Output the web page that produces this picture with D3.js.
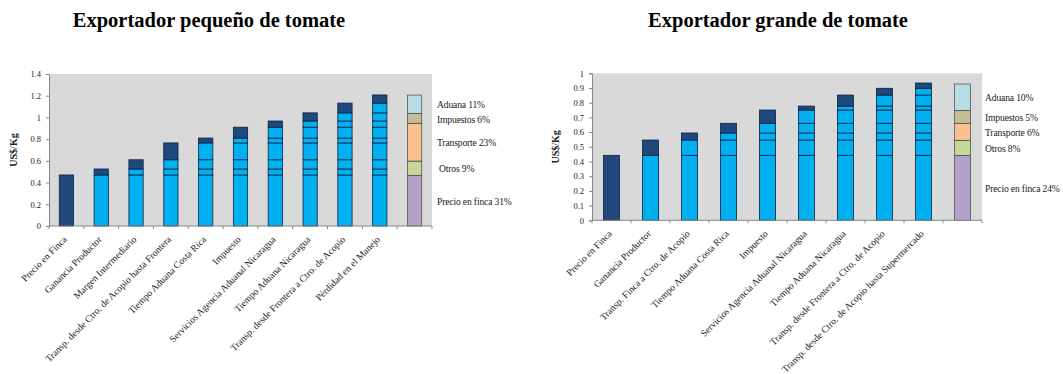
<!DOCTYPE html>
<html>
<head>
<meta charset="utf-8">
<script src="https://cdn.jsdelivr.net/npm/d3@7/dist/d3.min.js"></script>
<style>
  html, body { margin: 0; padding: 0; background: #fff; }
  svg { display: block; }
  text { font-family: "Liberation Serif", "Times New Roman", serif; fill: #222; }
</style>
</head>
<body>
<svg id="chart" width="1063" height="374"></svg>
<script>
// Small exporter: cost components added step by step (US$/Kg)
const smallCategories = [
  "Precio en Finca", "Ganancia Productor", "Margen Intermediario",
  "Transp. desde Ctro. de Acopio hasta Frontera", "Tiempo Aduana Costa Rica",
  "Impuesto", "Servicios Agencia Aduanal Nicaragua", "Tiempo Aduana Nicaragua",
  "Transp. desde Frontera a Ctro. de Acopio", "Pérdidad en el Manejo"
];
const smallSteps = [0.47, 0.055, 0.085, 0.155, 0.045, 0.10, 0.057, 0.075, 0.09, 0.075];
const smallTicks = [0, 0.2, 0.4, 0.6, 0.8, 1, 1.2, 1.4];

// Small exporter: summary by cost group
const groupNames = ["Precio en finca", "Otros", "Transporte", "Impuestos", "Aduana"];
const smallGroups = [0.467, 0.131, 0.348, 0.092, 0.168];
const smallGroupPct = ["31%", "9%", "23%", "6%", "11%"];

// Large exporter: cost components added step by step (US$/Kg)
const largeCategories = [
  "Precio en Finca", "Ganancia Productor", "Transp. Finca a Ctro. de Acopio",
  "Tiempo Aduana Costa Rica", "Impuesto", "Servicios Agencia Aduanal Nicaragua",
  "Tiempo Aduana Nicaragua", "Transp. desde Frontera a Ctro. de Acopio",
  "Transp. desde Ctro. de Acopio hasta Supermercado"
];
const largeSteps = [0.442, 0.104, 0.048, 0.066, 0.09, 0.027, 0.075, 0.046, 0.036];
const largeTicks = [0, 0.1, 0.2, 0.3, 0.4, 0.5, 0.6, 0.7, 0.8, 0.9, 1];

// Large exporter: summary by cost group
const largeGroups = [0.442, 0.102, 0.116, 0.088, 0.179];
const largeGroupPct = ["24%", "8%", "6%", "5%", "10%"];

const groupColors = ["#b3a2c8", "#c4d79b", "#fac08f", "#c4bd97", "#b7dee8"];
const darkBlue = "#1f497d";
const lightBlue = "#00b0f0";

const svg = d3.select("#chart");

function drawPanel(opt) {
  const { x0, x1, y0, y1, maxY, ticks, cats, steps, groups, pct, title, titleX, labelX, axisLabelX } = opt;
  const g = svg.append("g");

  const bandKeys = cats.map((c, i) => "c" + i).concat(["total"]);
  const x = d3.scaleBand().domain(bandKeys).range([x0, x1]).paddingInner(0.59).paddingOuter(0.295);
  const y = d3.scaleLinear().domain([0, maxY]).range([y1, y0]);

  // plot background
  g.append("rect").attr("x", x0).attr("y", y0).attr("width", x1 - x0).attr("height", y1 - y0)
    .attr("fill", "#d9d9d9");

  // cumulative stacks: earlier steps in light blue, newest step in dark blue
  const cum = d3.cumsum(steps);
  steps.forEach((s, i) => {
    const key = "c" + i;
    for (let j = 0; j <= i; j++) {
      const lo = j === 0 ? 0 : cum[j - 1];
      const hi = cum[j];
      g.append("rect")
        .attr("x", x(key)).attr("width", x.bandwidth())
        .attr("y", y(hi)).attr("height", y(lo) - y(hi))
        .attr("fill", j === i ? darkBlue : lightBlue)
        .attr("stroke", "#0b2240").attr("stroke-width", 0.8);
    }
  });

  // summary bar by cost group
  const gcum = d3.cumsum(groups);
  groups.forEach((v, j) => {
    const lo = j === 0 ? 0 : gcum[j - 1];
    const hi = gcum[j];
    g.append("rect")
      .attr("x", x("total")).attr("width", x.bandwidth())
      .attr("y", y(hi)).attr("height", y(lo) - y(hi))
      .attr("fill", groupColors[j])
      .attr("stroke", "#444").attr("stroke-width", 0.7);
    g.append("text")
      .attr("x", labelX + (j === 1 && opt.indentOtros ? 2 : 0))
      .attr("y", y((lo + hi) / 2) + 2)
      .attr("dominant-baseline", "middle")
      .attr("font-size", 9.6)
      .attr("letter-spacing", -0.15)
      .text(groupNames[j] + " " + pct[j]);
  });

  // y axis
  const yAxis = d3.axisLeft(y).tickValues(ticks).tickSize(3).tickPadding(5)
    .tickFormat(d => String(+d.toFixed(2)));
  const ya = g.append("g").attr("transform", `translate(${x0},0)`).call(yAxis);
  ya.selectAll("text").attr("font-size", 8.5).style("font-family", '"Liberation Serif", serif').attr("fill", "#333");
  ya.selectAll("line, path").attr("stroke", "#888");

  // x axis: ticks between categories
  g.append("line").attr("x1", x0).attr("x2", x1).attr("y1", y1).attr("y2", y1).attr("stroke", "#888");
  bandKeys.forEach((k, i) => {
    const bx = x0 + i * (x1 - x0) / bandKeys.length;
    g.append("line").attr("x1", bx).attr("x2", bx).attr("y1", y1).attr("y2", y1 + 3).attr("stroke", "#888");
  });
  g.append("line").attr("x1", x1).attr("x2", x1).attr("y1", y1).attr("y2", y1 + 3).attr("stroke", "#888");

  cats.forEach((c, i) => {
    const cx = x("c" + i) + x.bandwidth() / 2;
    g.append("text")
      .attr("transform", `translate(${cx + 1},${y1 + 14}) rotate(-45)`)
      .attr("text-anchor", "end")
      .attr("font-size", 9.6)
      .text(c);
  });

  // y axis title
  g.append("text")
    .attr("transform", `translate(${axisLabelX},${(y0 + y1) / 2}) rotate(-90)`)
    .attr("text-anchor", "middle")
    .attr("font-size", 10).attr("font-weight", "bold")
    .text("US$/Kg");

  // chart title
  g.append("text")
    .attr("x", titleX).attr("y", 27)
    .attr("text-anchor", "middle")
    .attr("font-size", 20.5).attr("font-weight", "bold")
    .style("fill", "#000")
    .text(title);
}

drawPanel({
  x0: 49, x1: 432, y0: 74, y1: 226, maxY: 1.4, ticks: smallTicks,
  cats: smallCategories, steps: smallSteps, groups: smallGroups, pct: smallGroupPct,
  title: "Exportador pequeño de tomate", titleX: 209, labelX: 437, axisLabelX: 17, indentOtros: true
});

drawPanel({
  x0: 592, x1: 982, y0: 73.3, y1: 220.3, maxY: 1, ticks: largeTicks,
  cats: largeCategories, steps: largeSteps, groups: largeGroups, pct: largeGroupPct,
  title: "Exportador grande de tomate", titleX: 778, labelX: 985, axisLabelX: 559, indentOtros: false
});
</script>
</body>
</html>
